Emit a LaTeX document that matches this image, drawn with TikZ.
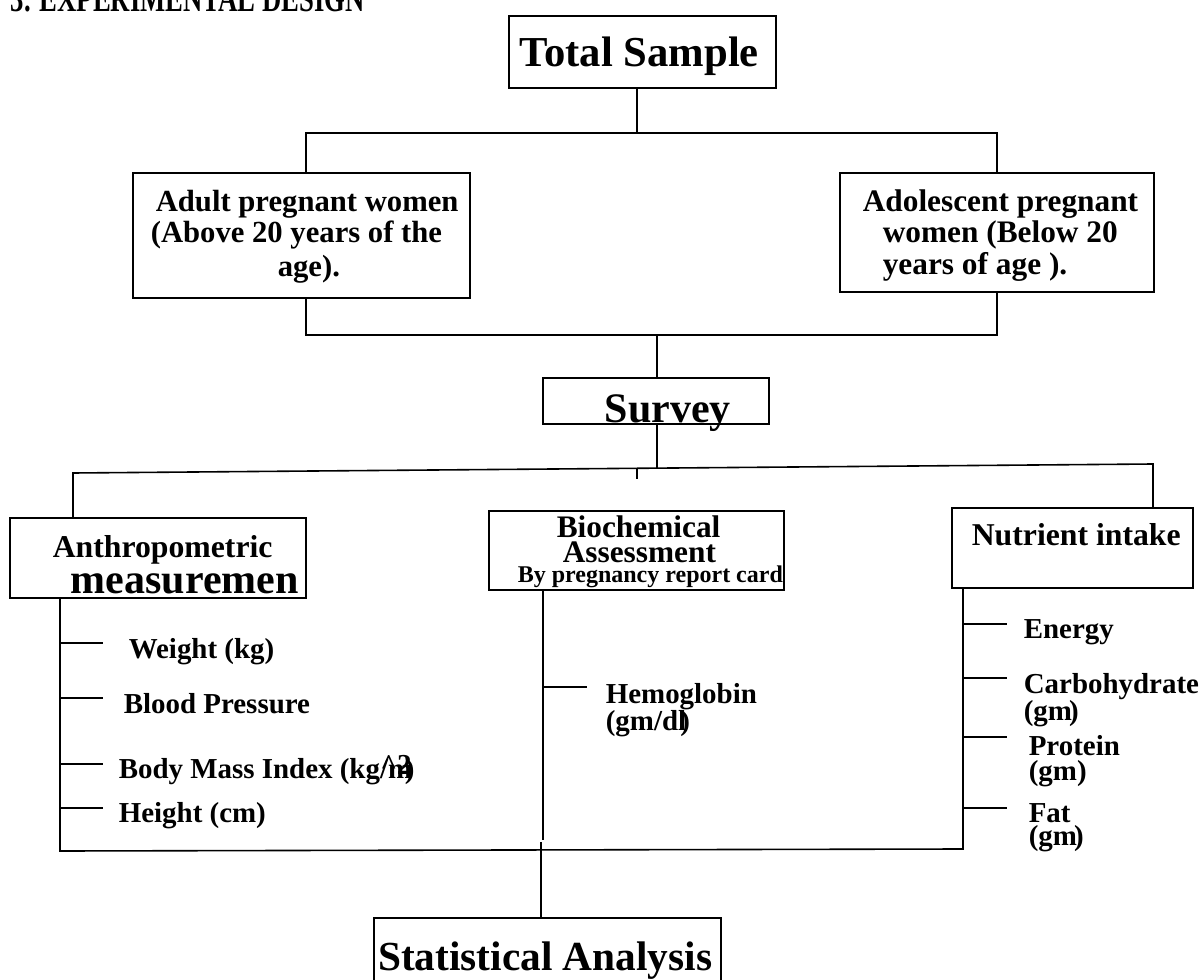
\documentclass[tikz,border=0pt]{standalone}
\usepackage{fontspec}
\setmainfont{Liberation Serif}
\usetikzlibrary{fit}
\newcommand{\fsz}[1]{\fontsize{#1}{#1}\selectfont\bfseries}
\begin{document}
\begin{tikzpicture}[x=0.75pt,y=-0.75pt,line width=1.2pt,
  box/.style={draw,inner sep=0pt,line width=1.2pt},
  lbl/.style={inner sep=0pt,anchor=base west},
  lblr/.style={inner sep=0pt,anchor=base east},
  conn/.style={line width=1.2pt},
  big/.style={font=\fsz{31.5pt}},
  mid/.style={font=\fsz{23.5pt}},
  item/.style={font=\fsz{21.7pt}}]
\useasboundingbox (0,0) rectangle (1203,980);
\clip (0,0) rectangle (1203,980);

% title (cut at the top edge)
\node[lbl,font=\fsz{20pt}] (title) at (10,12) {\scalebox{1}[1.4]{3. EXPERIMENTAL DESIGN}};

% boxes
\node[box,fit={(509,16) (776,88)}] (total) {};
\node[box,fit={(133,173) (470,298)}] (adult) {};
\node[box,fit={(840,173) (1154,292)}] (adol) {};
\node[box,fit={(543,378) (769,424)}] (survey) {};
\node[box,fit={(10,518) (306,598)}] (anthro) {};
\node[box,fit={(489,511) (784,590)}] (bio) {};
\node[box,fit={(952,508) (1193,588)}] (nutr) {};
\node[box,fit={(374,918) (721,1010)}] (stat) {};

% box texts
\node[lbl,font=\fsz{32pt}] (totaltxt) at (519,67) {Total Sample};
\begin{scope}
\clip (0,0) rectangle (1203,283);
\node[lbl,font=\fsz{23pt}] (adulta) at (155,212) {Adult pregnant women};
\node[lbl,font=\fsz{23pt}] (adultb) at (150,243) {(Above 20 years of the};
\node[lbl,font=\fsz{23pt}] (adultc) at (277,277) {age).};
\end{scope}
\begin{scope}
\clip (0,0) rectangle (1203,281);
\node[lbl,font=\fsz{23.5pt}] (adola) at (862,212) {Adolescent pregnant};
\node[lbl,font=\fsz{23.5pt}] (adolb) at (882,243) {women (Below 20};
\node[lbl,font=\fsz{23.5pt}] (adolc) at (882,275) {years of age ).};
\end{scope}
\node[lbl,big] (surveytxt) at (604,423) {Survey};
\node[lbl,font=\fsz{23.8pt}] (anthroa) at (52,557) {Anthropometric};
\node[lbl,big] (anthrob) at (70,593) {measuremen};
\node[lbl,mid] (bioa) at (556,537) {Biochemical};
\node[lbl,mid] (biob) at (562,562) {Assessment};
\node[lbl,font=\fsz{18pt}] (bioc) at (517,582) {By pregnancy report card};
\node[lbl,font=\fsz{23.8pt}] (nutrtxt) at (971,545) {Nutrient intake};
\node[lblr,font=\fsz{31pt}] (stattxt) at (713,970) {Statistical Analysis};

% tree connectors
\draw[conn] (total.south -| 637,0) -- (637,133);
\draw[conn] (adult.north -| 306,0) -- (306,133) -- (997,133) -- (adol.north -| 997,0);
\draw[conn] (adult.south -| 306,0) -- (306,335) -- (997,335) -- (adol.south -| 997,0);
\draw[conn] (657,335) -- (survey.north -| 657,0);
\draw[conn] (survey.south -| 657,0) -- (657,468);
\draw[conn] (anthro.north -| 73,0) -- (73,473) -- (1153,464) -- (nutr.north -| 1153,0);
\draw[conn] (637,468) -- (637,479);

% lower branches
\draw[conn] (anthro.south -| 60,0) -- (60,851) -- (963,849) -- (nutr.south -| 963,0);
\draw[conn] (bio.south -| 543,0) -- (543,840);
\draw[conn] (541,842) -- (stat.north -| 541,0);

% anthropometric items
\draw[conn] (60,643) -- (103,643);
\draw[conn] (60,698) -- (103,698);
\draw[conn] (60,764) -- (103,764);
\draw[conn] (60,808) -- (103,808);
\node[lbl,item] (weight) at (128,658) {Weight (kg)};
\node[lbl,item] (bp) at (123,713) {Blood Pressure};
\node[lbl,item] (bmi) at (118,778) {Body Mass Index (kg/m\makebox[0pt][r]{\raisebox{.12em}{\^{}2}\kern.02em}\kern-.25em)};
\node[lbl,item] (height) at (118,822) {Height (cm)};

% biochemical item
\draw[conn] (543,687) -- (587,687);
\node[lbl,item] (hemoa) at (605,703) {Hemoglobin};
\node[lbl,item] (hemob) at (605,730) {(gm/dl\kern-.2em)};

% nutrient items
\draw[conn] (963,624) -- (1007,624);
\draw[conn] (963,678) -- (1007,678);
\draw[conn] (963,737) -- (1007,737);
\draw[conn] (963,808) -- (1007,808);
\node[lbl,item] (energy) at (1023,638) {Energy};
\node[lbl,item] (carba) at (1023,693) {Carbohydrate};
\node[lbl,item] (carbb) at (1023,720) {(gm\kern-.1em)};
\node[lbl,item] (prota) at (1028,755) {Protein};
\node[lbl,item] (protb) at (1028,780) {(gm)};
\node[lbl,item] (fata) at (1028,822) {Fat};
\node[lbl,item] (fatb) at (1028,845) {(gm\kern-.1em)};
\end{tikzpicture}
\end{document}
